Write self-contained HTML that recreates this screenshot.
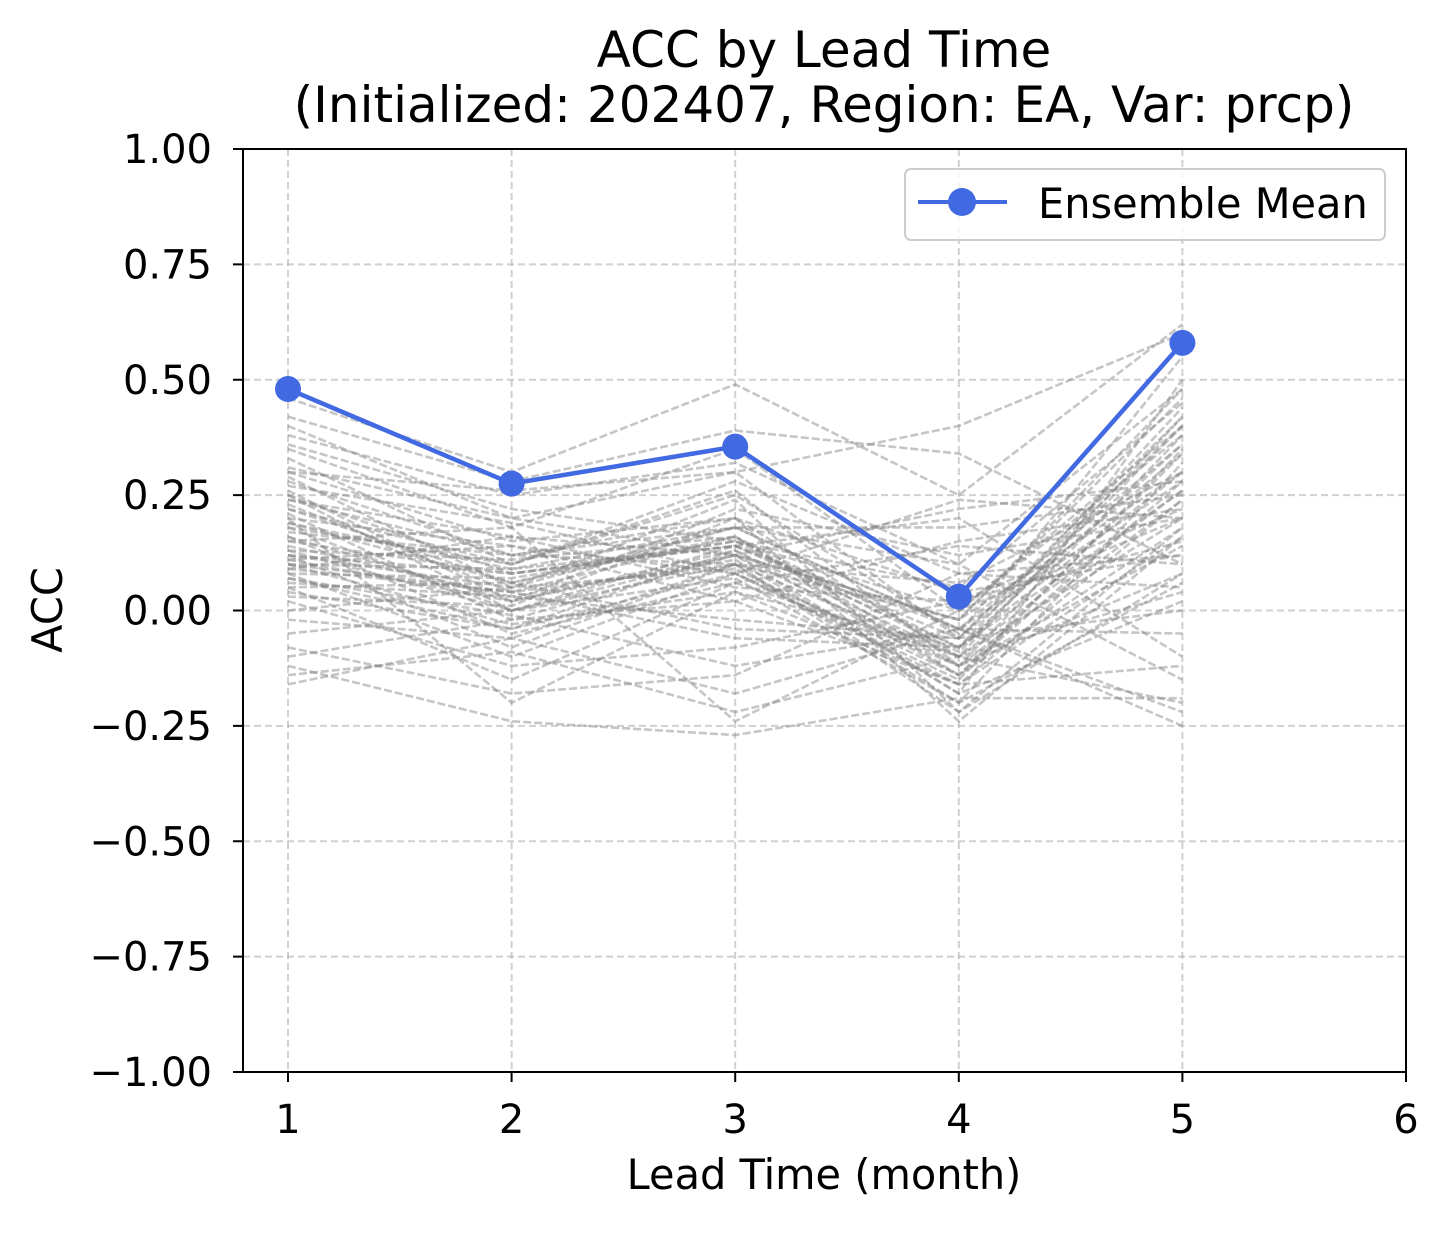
<!DOCTYPE html>
<html><head><meta charset="utf-8">
<style>
html,body{margin:0;padding:0;background:#fff;}
svg text{font-family:"DejaVu Sans","Liberation Sans",sans-serif;fill:#000;}
</style></head>
<body>
<svg id="chart" width="1449" height="1228" viewBox="0 0 1449 1228" xmlns="http://www.w3.org/2000/svg">
<rect width="1449" height="1228" fill="#fff"/>
<text x="824" y="67" style="font-size:50px" text-anchor="middle">ACC by Lead Time</text>
<text x="824" y="122" style="font-size:50px" text-anchor="middle">(Initialized: 202407, Region: EA, Var: prcp)</text>
<g id="grid"></g>
<g id="members"></g>
<g id="mean"></g>
<rect x="243" y="149" width="1163" height="923" fill="none" stroke="#000" stroke-width="2"/>
<g id="ticks"></g>
<text x="824" y="1189" style="font-size:41.5px" text-anchor="middle">Lead Time (month)</text>
<text transform="translate(62,610) rotate(-90)" style="font-size:41.5px" text-anchor="middle">ACC</text>
<g>
<rect x="905" y="169" width="480" height="71" rx="6" fill="#fff" fill-opacity="0.8" stroke="#ccc" stroke-width="2"/>
<line x1="918" y1="202" x2="1007" y2="202" stroke="#4169e1" stroke-width="4"/>
<circle cx="962" cy="202" r="14" fill="#4169e1"/>
<text x="1038" y="218" style="font-size:41.5px">Ensemble Mean</text>
</g>
</svg>
<script>
const leadTimes = [1,2,3,4,5];
const meanValues = [0.48,0.275,0.355,0.03,0.58];
const xTicks = [1,2,3,4,5,6];
const yTicks = [1.0,0.75,0.5,0.25,0,-0.25,-0.5,-0.75,-1.0];
const yTickLabels = ["1.00","0.75","0.50","0.25","0.00","\u22120.25","\u22120.50","\u22120.75","\u22121.00"];
const members = [
[0.46,0.30,0.49,0.25,0.62],[0.42,0.28,0.39,0.34,0.10],[0.40,0.20,0.30,0.40,0.60],[0.38,0.25,0.32,0.10,0.48],
[0.36,0.22,0.15,0.05,0.45],[0.35,0.18,0.35,0.00,0.40],[0.33,0.10,0.25,-0.05,0.55],[0.31,0.20,0.12,0.22,0.28],
[0.30,0.15,0.20,-0.10,0.42],[0.29,0.05,0.18,0.18,0.25],[0.28,0.12,0.10,-0.02,0.30],[0.27,0.19,0.08,-0.15,0.35],
[0.26,0.02,0.22,0.12,0.20],[0.25,0.08,0.14,-0.08,0.44],[0.24,0.16,0.05,0.02,0.15],[0.23,0.04,0.16,-0.12,0.38],
[0.22,0.10,0.28,0.08,0.05],[0.21,-0.02,0.12,-0.18,0.50],[0.20,0.14,0.02,0.15,0.22],[0.19,0.06,0.18,-0.04,-0.05],
[0.18,0.00,0.10,-0.20,0.32],[0.17,0.12,0.20,0.04,0.12],[0.16,-0.05,0.06,-0.10,0.26],[0.15,0.08,0.14,0.20,-0.10],
[0.14,0.03,-0.02,-0.06,0.40],[0.13,0.11,0.16,-0.14,0.18],[0.12,-0.08,0.10,0.06,0.30],[0.12,0.05,0.24,-0.22,0.08],
[0.11,0.02,0.12,-0.02,0.46],[0.10,-0.03,0.04,-0.16,0.24],[0.10,0.09,0.18,0.10,-0.15],[0.09,0.04,-0.06,-0.08,0.36],
[0.08,-0.10,0.08,-0.12,0.14],[0.08,0.07,0.15,0.00,0.20],[0.07,-0.01,-0.12,-0.04,0.28],[0.06,0.03,0.11,-0.18,0.02],
[0.05,-0.15,0.06,0.14,0.10],[0.05,0.06,-0.04,-0.06,0.42],[0.04,-0.04,0.13,-0.10,-0.20],[0.03,0.01,0.20,-0.24,0.16],
[0.02,-0.12,-0.08,0.02,0.22],[0.00,0.05,0.09,-0.14,0.34],[-0.02,-0.06,-0.18,-0.04,-0.25],[-0.05,0.00,0.07,-0.20,0.06],
[-0.08,-0.18,-0.14,0.08,0.12],[-0.10,-0.02,0.02,-0.16,-0.12],[-0.12,-0.24,-0.27,-0.19,-0.19],[-0.14,-0.09,-0.22,-0.10,0.04],
[-0.16,-0.06,0.10,-0.22,0.18],[0.30,0.26,0.30,-0.06,0.00],[0.20,-0.20,0.04,-0.08,0.26],[0.15,0.18,-0.24,0.00,0.38],
[0.25,0.00,0.14,-0.04,-0.22],[0.18,0.10,0.26,-0.12,0.08],[0.11,0.14,0.08,0.24,0.20],[0.09,0.16,0.12,-0.02,0.48],
[0.22,0.06,0.16,-0.08,0.30],[0.13,0.00,0.12,-0.12,0.24],[0.19,0.09,0.14,-0.06,0.34],[0.10,0.04,0.10,-0.10,0.20],
[0.16,0.02,0.13,-0.14,0.28],[0.24,0.12,0.18,-0.04,0.36],[0.07,-0.04,0.08,-0.16,0.16],[0.12,0.08,0.15,-0.09,0.40]
];
const X = v => 288 + (v - 1) * 223.6;
const Y = v => 610.5 - v * 461.5;
const NS = "http://www.w3.org/2000/svg";
function mk(tag, attrs, parent){const e=document.createElementNS(NS,tag);for(const k in attrs)e.setAttribute(k,attrs[k]);parent.appendChild(e);return e;}
const grid=document.getElementById('grid'), ticks=document.getElementById('ticks');
xTicks.forEach(t=>{
  const g=mk('line',{x1:X(t),x2:X(t),y1:149,y2:1072,stroke:'#b0b0b0','stroke-opacity':0.6,'stroke-width':2,'stroke-dasharray':'7,4'},grid);
  
  
  const tk=mk('line',{x1:X(t),x2:X(t),y1:1072,y2:1082,stroke:'#000','stroke-width':2},ticks);
  
  
  const tx=mk('text',{x:X(t),y:1133,style:'font-size:40px','text-anchor':'middle'},ticks);
  
  
  tx.textContent=t;
});
yTicks.forEach((t,i)=>{
  const g=mk('line',{x1:243,x2:1406,y1:Y(t),y2:Y(t),stroke:'#b0b0b0','stroke-opacity':0.6,'stroke-width':2,'stroke-dasharray':'7,4'},grid);
  
  
  const tk=mk('line',{x1:233,x2:243,y1:Y(t),y2:Y(t),stroke:'#000','stroke-width':2},ticks);
  
  
  const tx=mk('text',{x:212,y:Y(t)+14,style:'font-size:40px','text-anchor':'end'},ticks);
  
  
  tx.textContent=yTickLabels[i];
});
const mg=document.getElementById('members');
members.forEach(m=>{
  const p=mk('polyline',{points:m.map((v,i)=>X(leadTimes[i])+','+Y(v)).join(' '),fill:'none',stroke:'#808080','stroke-opacity':0.45,'stroke-width':2.6,'stroke-dasharray':'8,3'},mg);
  
  
});
const meanG=document.getElementById('mean');
const ml=mk('polyline',{points:meanValues.map((v,i)=>X(leadTimes[i])+','+Y(v)).join(' '),fill:'none',stroke:'#4169e1','stroke-width':4.5},meanG);


meanValues.forEach((v,i)=>{
  const c=mk('circle',{cx:X(leadTimes[i]),cy:Y(v),r:13,fill:'#4169e1'},meanG);
  
  
});
</script>
</body></html>
